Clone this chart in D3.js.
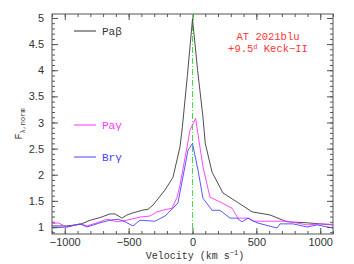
<!DOCTYPE html>
<html>
<head>
<meta charset="utf-8">
<script src="https://cdn.jsdelivr.net/npm/d3@7"></script>
<style>
  body { margin: 0; background: #fff; }
  .tick text { font-family: "Liberation Sans", Arial, sans-serif; font-size: 11px; fill: #333; }
</style>
</head>
<body>
<svg id="chart"></svg>
<script>
// Pa beta
var velPb  = [-1100,-983,-880,-800,-724,-646,-607,-552,-513,-466,-395,-348,-309,-215,-153,-98,-80,-40,0,40,82,100,153,239,348,466,607,740,897,998,1100];
var fluxPb = [1.02,1.02,1.05,1.13,1.18,1.25,1.25,1.17,1.23,1.27,1.32,1.34,1.42,1.71,1.95,2.53,2.9,3.9,4.98,4.0,3.1,2.6,2.05,1.65,1.48,1.29,1.23,1.1,1.08,1.06,1.04];
// Pa gamma
var velPg  = [-1100,-1053,-983,-880,-826,-724,-670,-591,-513,-411,-333,-278,-200,-160,-121,-98,-43,-20,24,82,137,215,309,356,435,474,740,897,998,1100];
var fluxPg = [1.06,1.08,1.0,1.06,1.02,1.1,1.15,1.1,1.13,1.19,1.21,1.29,1.34,1.36,1.57,1.8,2.53,2.85,3.08,2.15,1.57,1.48,1.36,1.17,1.17,1.11,1.11,1.04,1.06,1.05];
// Br gamma
var velBg  = [-1100,-983,-880,-826,-724,-646,-583,-528,-466,-411,-294,-215,-153,-114,-35,0,43,82,153,215,294,348,387,435,505,662,685,787,897,975,1100];
var fluxBg = [0.98,1.0,1.06,1.0,1.08,1.13,1.15,1.1,1.02,1.13,1.11,1.21,1.36,1.46,2.47,2.6,2.09,1.55,1.32,1.32,1.17,1.17,1.1,1.17,1.08,0.98,1.06,1.06,1.0,1.04,0.98];

var xTicks = [-1000,-500,0,500,1000];
var yTicks = [1,1.5,2,2.5,3,3.5,4,4.5,5];

var width = 354, height = 264;
var margin = {left: 52, right: 21, top: 14, bottom: 30};
var svg = d3.select("#chart").attr("width", width).attr("height", height);

var x = d3.scaleLinear().domain([-1100, 1100]).range([margin.left, width - margin.right]);
var y = d3.scaleLinear().domain([0.866, 5.076]).range([height - margin.bottom, margin.top]);

var x0 = margin.left, x1 = width - margin.right, y0 = height - margin.bottom, y1 = margin.top;

// ticks on all four sides, pointing in
function drawAxis(axis, tx, ty) {
  var g = svg.append("g").attr("transform", "translate(" + tx + "," + ty + ")").call(axis);
  g.select(".domain").remove();
  g.selectAll(".tick line").attr("stroke", "#555");
  return g;
}
var xMinor = d3.range(-1100, 1101, 100);
var yMinor = d3.range(0.9, 5.05, 0.1);
drawAxis(d3.axisBottom(x).tickValues(xMinor).tickSize(-3).tickFormat(""), 0, y0);
drawAxis(d3.axisTop(x).tickValues(xMinor).tickSize(-3).tickFormat(""), 0, y1);
drawAxis(d3.axisLeft(y).tickValues(yMinor).tickSize(-3).tickFormat(""), x0, 0);
drawAxis(d3.axisRight(y).tickValues(yMinor).tickSize(-3).tickFormat(""), x1, 0);

drawAxis(d3.axisBottom(x).tickValues(xTicks).tickSize(-6).tickPadding(4).tickFormat(function(d){ return String(d).replace("-", "\u2212"); }), 0, y0);
drawAxis(d3.axisTop(x).tickValues(xTicks).tickSize(-6).tickFormat(""), 0, y1);
drawAxis(d3.axisLeft(y).tickValues(yTicks).tickSize(-6).tickPadding(8).tickFormat(d3.format("")), x0, 0);
drawAxis(d3.axisRight(y).tickValues(yTicks).tickSize(-6).tickFormat(""), x1, 0);

svg.append("rect")
  .attr("x", x0).attr("y", y1).attr("width", x1 - x0).attr("height", y0 - y1)
  .attr("fill", "none").attr("stroke", "#555").attr("stroke-width", 1);

// zero velocity marker
svg.append("line")
  .attr("x1", x(0)).attr("x2", x(0)).attr("y1", y1).attr("y2", y0)
  .attr("stroke", "#44dd44").attr("stroke-width", 1).attr("stroke-dasharray", "6,2,1,2");

var line = d3.line().x(function(d){ return x(d[0]); }).y(function(d){ return y(d[1]); });
var series = [
  {vel: velPb, flux: fluxPb, color: "#3a3a3a"},
  {vel: velPg, flux: fluxPg, color: "#ff33ff"},
  {vel: velBg, flux: fluxBg, color: "#4444ff"}
];
series.forEach(function(s) {
  svg.append("path")
    .datum(d3.zip(s.vel, s.flux))
    .attr("d", line)
    .attr("fill", "none")
    .attr("stroke", s.color)
    .attr("stroke-width", 0.9);
});

// legend
var legend = [
  {label: "Pa\u03b2", color: "#333333", y: 31},
  {label: "Pa\u03b3", color: "#ff33ff", y: 125},
  {label: "Br\u03b3", color: "#4444ff", y: 157}
];
legend.forEach(function(l) {
  svg.append("line").attr("x1", 74).attr("x2", 96).attr("y1", l.y).attr("y2", l.y)
    .attr("stroke", l.color).attr("stroke-width", 1);
  svg.append("text").attr("x", 102).attr("y", l.y + 4)
    .attr("fill", l.color).attr("font-family", "Liberation Mono, monospace").attr("font-size", "11px")
    .text(l.label);
});

// title
var title = svg.append("text").attr("x", 268).attr("y", 40).attr("text-anchor", "middle")
  .attr("fill", "#ff3333").attr("font-family", "Liberation Mono, monospace").attr("font-size", "10.5px");
title.text("AT 2021blu");
var t2 = svg.append("text").attr("x", 268).attr("y", 52).attr("text-anchor", "middle")
  .attr("fill", "#ff3333").attr("font-family", "Liberation Mono, monospace").attr("font-size", "10.5px");
t2.append("tspan").text("+9.5");
t2.append("tspan").attr("dy", -3).attr("font-size", "7px").text("d");
t2.append("tspan").attr("dy", 3).text(" Keck\u2212II");

// axis labels
var xl = svg.append("text").attr("x", 195).attr("y", 259).attr("text-anchor", "middle")
  .attr("fill", "#333").attr("font-family", "Liberation Mono, monospace").attr("font-size", "10px");
xl.append("tspan").text("Velocity (km s");
xl.append("tspan").attr("dy", -4).attr("font-size", "7px").text("\u22121");
xl.append("tspan").attr("dy", 4).text(")");

var yl = svg.append("text").attr("transform", "translate(22,124) rotate(-90)").attr("text-anchor", "middle")
  .attr("fill", "#333").attr("font-family", "Liberation Mono, monospace").attr("font-size", "10px");
yl.append("tspan").text("F");
yl.append("tspan").attr("dy", 3).attr("font-size", "7px").text("\u03bb,norm");
</script>
</body>
</html>
